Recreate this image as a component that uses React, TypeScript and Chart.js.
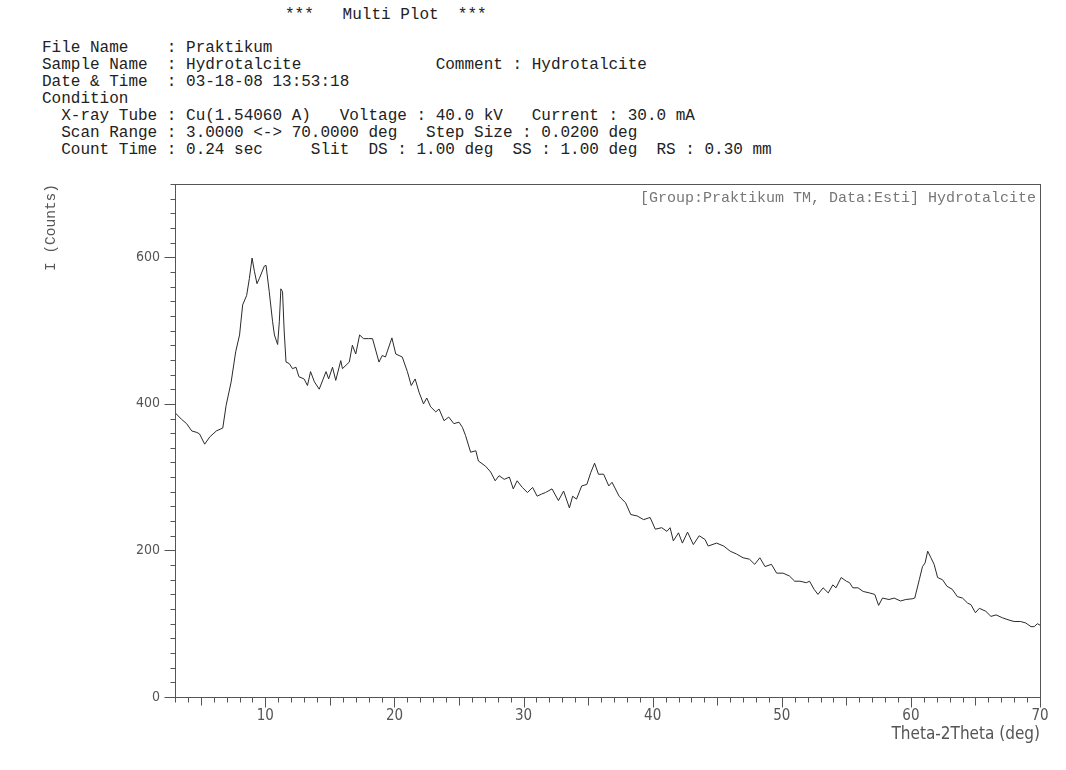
import React, { useEffect, useRef } from 'react';
import { Chart, registerables } from 'chart.js';

Chart.register(...registerables);

// 2-theta positions (deg) and intensities (counts)
const twoTheta = [
  3.0, 3.5, 3.9, 4.3, 4.7, 4.9, 5.3, 5.7, 6.2, 6.7, 6.96, 7.35, 7.7, 8.0, 8.24, 8.55, 8.76, 8.97, 9.15, 9.35,
  9.53, 9.92, 10.05, 10.3, 10.56, 10.7, 10.95, 11.08, 11.2, 11.33, 11.46, 11.6, 11.85, 12.1, 12.37, 12.6, 13.0, 13.26, 13.5, 13.8,
  14.17, 14.7, 14.9, 15.2, 15.45, 15.84, 15.97, 16.5, 16.74, 17.0, 17.3, 17.6, 18.0, 18.3, 18.8, 19.05, 19.3, 19.8, 20.1, 20.6,
  21.0, 21.3, 21.6, 21.9, 22.25, 22.5, 22.8, 23.2, 23.45, 23.84, 24.2, 24.6, 25.0, 25.26, 25.5, 25.9, 26.3, 26.5, 27.05, 27.45,
  27.8, 28.1, 28.5, 28.9, 29.2, 29.5, 29.9, 30.3, 30.7, 31.05, 31.4, 31.7, 32.2, 32.7, 33.1, 33.55, 33.8, 34.1, 34.5, 34.9,
  35.2, 35.5, 35.8, 36.2, 36.6, 36.85, 37.4, 37.9, 38.3, 38.8, 39.3, 39.8, 40.2, 40.7, 41.1, 41.35, 41.6, 42.0, 42.3, 42.7,
  43.15, 43.6, 44.05, 44.3, 44.95, 45.5, 46.0, 46.5, 47.0, 47.5, 47.9, 48.3, 48.7, 49.2, 49.6, 50.1, 50.6, 51.0, 51.4, 51.9,
  52.15, 52.5, 52.8, 53.2, 53.6, 53.95, 54.2, 54.6, 55.0, 55.25, 55.5, 55.9, 56.3, 56.8, 57.2, 57.5, 57.8, 58.3, 58.7, 59.2,
  59.6, 60.1, 60.3, 60.65, 60.9, 61.1, 61.3, 61.55, 61.8, 62.07, 62.45, 62.8, 63.2, 63.6, 64.0, 64.4, 64.65, 65.0, 65.3, 65.8,
  66.2, 66.6, 67.1, 67.6, 68.0, 68.5, 68.9, 69.3, 69.55, 69.8, 70.0,
];
const counts = [
  388, 379, 373, 363, 361, 359, 345, 355, 363, 367, 398, 430, 471, 494, 535, 548, 571, 599, 581, 564,
  571, 588, 589, 553, 512, 494, 481, 512, 557, 553, 498, 457, 455, 448, 450, 437, 434, 425, 444, 430,
  420, 444, 434, 450, 432, 459, 448, 457, 480, 468, 494, 489, 489, 489, 457, 466, 464, 490, 468, 464,
  444, 425, 434, 416, 400, 408, 396, 389, 393, 377, 382, 373, 375, 368, 357, 334, 336, 322, 315, 307,
  295, 302, 297, 300, 284, 295, 286, 279, 286, 274, 277, 279, 284, 268, 281, 258, 274, 270, 288, 290,
  306, 319, 304, 304, 288, 293, 274, 265, 249, 247, 242, 245, 229, 231, 226, 231, 213, 224, 210, 225,
  208, 220, 215, 206, 210, 206, 199, 195, 190, 188, 181, 190, 178, 181, 169, 169, 165, 158, 158, 156,
  158, 147, 140, 149, 142, 153, 149, 163, 158, 156, 149, 149, 144, 142, 140, 125, 135, 133, 135, 131,
  133, 134, 135, 160, 178, 183, 199, 190, 181, 163, 160, 151, 147, 137, 135, 128, 126, 115, 121, 117,
  110, 112, 108, 105, 103, 103, 101, 96, 96, 100, 98,
];

const xMajorLabels = [10, 20, 30, 40, 50, 60, 70];
const yMajorLabels = [0, 200, 400, 600];

const titleLine = '***   Multi Plot  ***';
const headerLines = [
  'File Name    : Praktikum',
  'Sample Name  : Hydrotalcite              Comment : Hydrotalcite',
  'Date & Time  : 03-18-08 13:53:18',
  'Condition',
  '  X-ray Tube : Cu(1.54060 A)   Voltage : 40.0 kV   Current : 30.0 mA',
  '  Scan Range : 3.0000 <-> 70.0000 deg   Step Size : 0.0200 deg',
  '  Count Time : 0.24 sec     Slit  DS : 1.00 deg  SS : 1.00 deg  RS : 0.30 mm',
];
const groupNote = '[Group:Praktikum TM, Data:Esti] Hydrotalcite';
const xTitle = 'Theta-2Theta (deg)';
const yTitle = 'I (Counts)';

const MONO = "'Liberation Mono', 'Courier New', 'DejaVu Sans Mono', monospace";
const NARROW = "'Liberation Sans Narrow', 'DejaVu Sans Condensed', 'Liberation Sans', sans-serif";

const framePlugin = {
  id: 'xrdFrame',
  afterDraw(chart: any) {
    const { ctx, chartArea, scales } = chart;
    const { left, right, top, bottom } = chartArea;
    const x = scales.x;
    const y = scales.y;
    ctx.save();
    ctx.strokeStyle = '#555';
    ctx.lineWidth = 1;
    ctx.strokeRect(Math.round(left) + 0.5, Math.round(top) + 0.5, Math.round(right - left), Math.round(bottom - top));
    ctx.beginPath();
    x.ticks.forEach((t: any) => {
      const v = Math.round(t.value);
      const px = Math.round(x.getPixelForValue(t.value)) + 0.5;
      const len = v % 10 === 0 ? 10 : v % 5 === 0 ? 8 : 5;
      ctx.moveTo(px, Math.round(bottom) + 0.5);
      ctx.lineTo(px, Math.round(bottom) + 0.5 + len);
    });
    y.ticks.forEach((t: any) => {
      const v = Math.round(t.value);
      const py = Math.round(y.getPixelForValue(t.value)) + 0.5;
      const len = v % 200 === 0 ? 11 : 5;
      ctx.moveTo(Math.round(left) + 0.5, py);
      ctx.lineTo(Math.round(left) + 0.5 - len, py);
    });
    ctx.stroke();
    ctx.fillStyle = '#777';
    ctx.font = `15px ${MONO}`;
    ctx.textAlign = 'right';
    ctx.textBaseline = 'middle';
    ctx.fillText(groupNote, right - 4, top + 14);
    ctx.restore();
  },
};

export default function App() {
  const canvasRef = useRef<HTMLCanvasElement | null>(null);

  useEffect(() => {
    if (!canvasRef.current) return;
    const points = twoTheta.map((t, i) => ({ x: t, y: counts[i] }));
    const chart = new Chart(canvasRef.current, {
      type: 'line',
      data: {
        datasets: [
          {
            label: 'Hydrotalcite',
            data: points,
            borderColor: '#2a2a2a',
            borderWidth: 1,
            pointRadius: 0,
            tension: 0,
            fill: false,
          },
        ],
      },
      options: {
        animation: false,
        responsive: false,
        devicePixelRatio: 1,
        layout: { padding: { top: 184, right: 26, left: 0, bottom: 0 } },
        plugins: { legend: { display: false }, tooltip: { enabled: false } },
        scales: {
          x: {
            type: 'linear',
            min: 3,
            max: 70,
            border: { display: false },
            grid: { display: false, drawTicks: false },
            ticks: {
              stepSize: 1,
              autoSkip: false,
              maxRotation: 0,
              padding: 10,
              color: '#555',
              font: { family: NARROW, size: 15 },
              callback: (v: any) => (xMajorLabels.includes(Number(v)) ? String(v) : ''),
            },
            title: {
              display: true,
              text: xTitle,
              align: 'end',
              color: '#555',
              font: { family: NARROW, size: 17 },
              padding: { top: 0, bottom: 25 },
            },
            afterFit: (scale: any) => {
              scale.height = 73;
            },
          },
          y: {
            type: 'linear',
            min: 0,
            max: 700,
            border: { display: false },
            grid: { display: false, drawTicks: false },
            ticks: {
              stepSize: 20,
              autoSkip: false,
              padding: 15,
              color: '#555',
              font: { family: NARROW, size: 14 },
              callback: (v: any) => (yMajorLabels.includes(Number(v)) ? String(v) : ''),
            },
            title: {
              display: true,
              text: yTitle,
              align: 'end',
              color: '#555',
              font: { family: MONO, size: 14.5 },
              padding: { top: 42, bottom: 0 },
            },
            afterFit: (scale: any) => {
              scale.width = 175;
            },
          },
        },
      },
      plugins: [framePlugin],
    });
    return () => chart.destroy();
  }, []);

  const headerStyle: React.CSSProperties = {
    position: 'absolute',
    margin: 0,
    fontFamily: MONO,
    fontSize: '16px',
    lineHeight: '16px',
    color: '#222',
    whiteSpace: 'pre',
  };
  const lineCenters = [48, 65, 82, 99, 116, 133, 150];

  return (
    <div style={{ position: 'fixed', left: 0, top: 0, width: 1066, height: 770, background: '#fff', overflow: 'hidden' }}>
      <div style={{ ...headerStyle, left: 285, top: 7 }}>{titleLine}</div>
      {headerLines.map((line, i) => (
        <div key={i} style={{ ...headerStyle, left: 42, top: lineCenters[i] - 8 }}>
          {line}
        </div>
      ))}
      <canvas ref={canvasRef} width={1066} height={770} style={{ position: 'absolute', left: 0, top: 0, width: 1066, height: 770 }} />
    </div>
  );
}
